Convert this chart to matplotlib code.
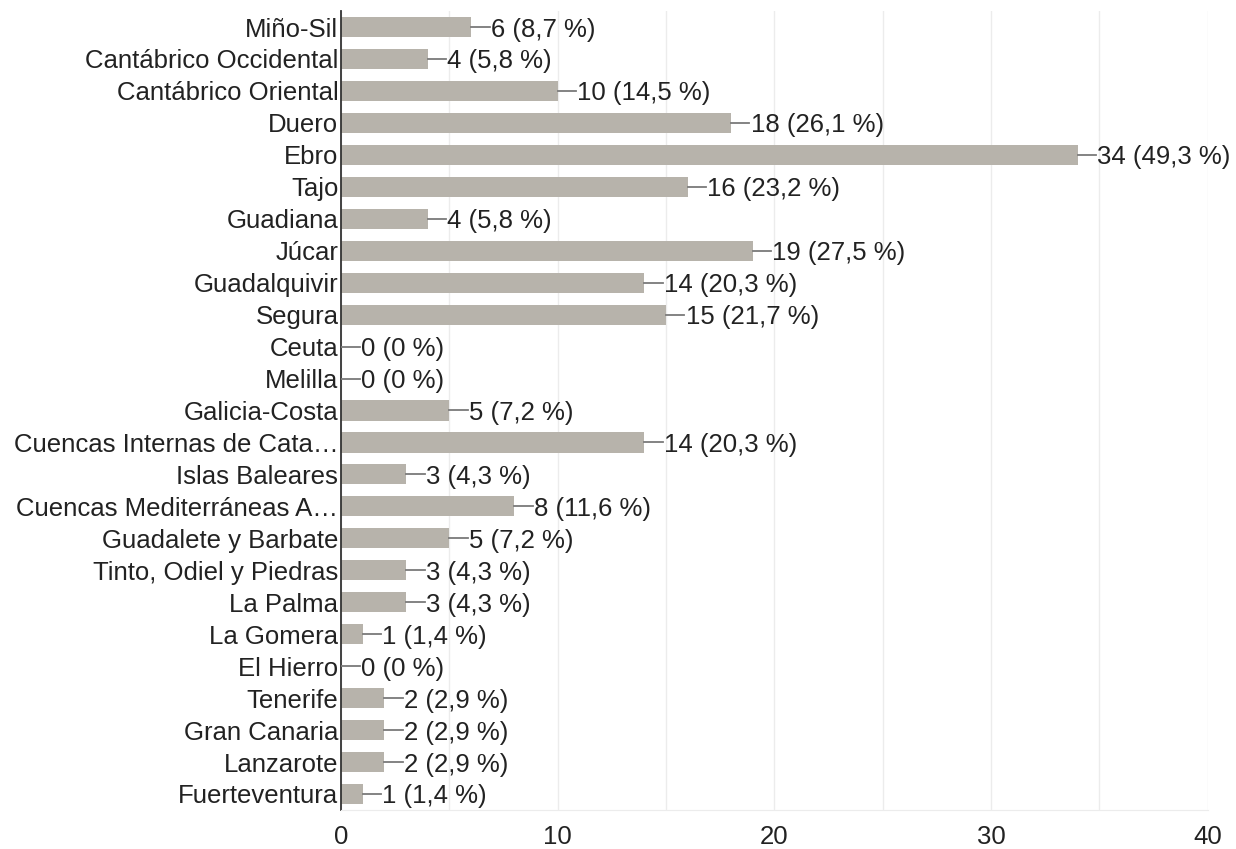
import matplotlib.pyplot as plt
from matplotlib.ticker import MultipleLocator

plt.rcParams['font.family'] = ['Liberation Sans', 'DejaVu Sans']

categories = [
    "Miño-Sil", "Cantábrico Occidental", "Cantábrico Oriental", "Duero", "Ebro",
    "Tajo", "Guadiana", "Júcar", "Guadalquivir", "Segura", "Ceuta", "Melilla",
    "Galicia-Costa", "Cuencas Internas de Cata…", "Islas Baleares",
    "Cuencas Mediterráneas A…", "Guadalete y Barbate", "Tinto, Odiel y Piedras",
    "La Palma", "La Gomera", "El Hierro", "Tenerife", "Gran Canaria",
    "Lanzarote", "Fuerteventura",
]
counts = [6, 4, 10, 18, 34, 16, 4, 19, 14, 15, 0, 0, 5, 14, 3, 8, 5, 3, 3, 1, 0, 2, 2, 2, 1]
percents = ["8,7", "5,8", "14,5", "26,1", "49,3", "23,2", "5,8", "27,5", "20,3", "21,7",
            "0", "0", "7,2", "20,3", "4,3", "11,6", "7,2", "4,3", "4,3", "1,4", "0",
            "2,9", "2,9", "2,9", "1,4"]
x_ticks = [0, 10, 20, 30, 40]

fig = plt.figure(figsize=(12.36, 8.49), dpi=100)
ax = fig.add_axes([0.276, 0.046, 0.701, 0.941])

pos = list(range(len(categories)))
ax.barh(pos, counts, height=0.63, color='#b7b3ab', zorder=2)

for p, c, pc in zip(pos, counts, percents):
    ax.plot([c, c + 0.85], [p, p], color='#7a7a7a', lw=1.3, zorder=3)
    ax.text(c + 0.9, p, f"{c} ({pc} %)", va='center_baseline', ha='left',
            fontsize=18.5, color='#222222')

ax.set_ylim(len(categories) - 0.5, -0.5)
ax.set_xlim(0, 40)
ax.set_yticks(pos)
ax.set_yticklabels(categories, fontsize=18.5, color='#222222', va='center_baseline')
ax.set_xticks(x_ticks)
ax.set_xticklabels([str(t) for t in x_ticks], fontsize=18.5, color='#222222')
ax.xaxis.set_minor_locator(MultipleLocator(5))
ax.grid(axis='x', which='both', color='#ececec', lw=1, zorder=0)
ax.tick_params(axis='both', which='both', length=0)
ax.tick_params(axis='y', pad=2)
ax.tick_params(axis='x', pad=11)

for s in ['top', 'right']:
    ax.spines[s].set_visible(False)
ax.spines['bottom'].set_color('#ececec')
ax.spines['left'].set_color('#333333')
ax.spines['left'].set_linewidth(1.3)

fig.savefig('out.png', dpi=100)
